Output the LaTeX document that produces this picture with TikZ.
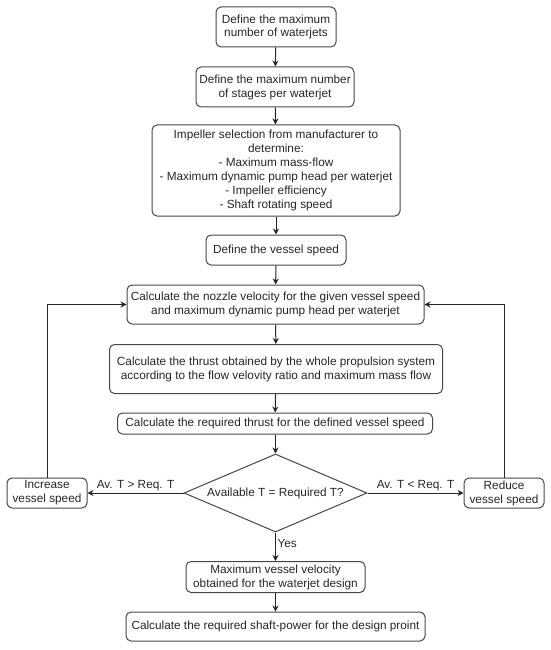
\documentclass[tikz,border=0pt]{standalone}
\usepackage{fontspec}
\setmainfont{Liberation Sans}
\usetikzlibrary{shapes.geometric,arrows.meta}
\begin{document}
\begin{tikzpicture}[x=1pt,y=-1pt,
  box/.style={draw=black!72, line width=1pt, rounded corners=5pt, align=center, inner sep=1pt,
    font=\fontsize{11.8}{13.9}\selectfont, text=black!85},
  dia/.style={draw=black!72, line width=1pt, diamond, shape aspect=2.35, inner sep=0pt,
    minimum width=183pt, minimum height=78pt, font=\fontsize{11.8}{13.9}\selectfont, text=black!85},
  arr/.style={draw=black!85, line width=1pt, -{Stealth[length=6pt,width=6pt]}},
  lbl/.style={font=\fontsize{11.8}{13.9}\selectfont, text=black!85, inner sep=1.5pt}]
\useasboundingbox (0,0) rectangle (550,650);
\node[box, minimum width=120pt, minimum height=40pt] (b1) at (276,27) {Define the maximum\\number of waterjets};
\node[box, minimum width=158pt, minimum height=40pt] (b2) at (275,87) {Define the maximum number\\of stages per waterjet};
\node[box, minimum width=248pt, minimum height=91pt] (b3) at (276,170.5) {Impeller selection from manufacturer to\\determine:\\- Maximum mass-flow\\- Maximum dynamic pump head per waterjet\\- Impeller efficiency\\- Shaft rotating speed};
\node[box, minimum width=140pt, minimum height=30pt] (b4) at (276,250) {Define the vessel speed};
\node[box, minimum width=297pt, minimum height=39pt] (b5) at (275.5,304.5) {Calculate the nozzle velocity for the given vessel speed\\and maximum dynamic pump head per waterjet};
\node[box, minimum width=333pt, minimum height=49pt] (b6) at (276,369) {Calculate the thrust obtained by the whole propulsion system\\according to the flow velovity ratio and maximum mass flow};
\node[box, minimum width=315pt, minimum height=21pt] (b7) at (275,423.5) {Calculate the required thrust for the defined vessel speed};
\node[dia] (d) at (275.5,493) {Available T = Required T?};
\node[box, minimum width=80pt, minimum height=30pt] (inc) at (47,493) {Increase\\vessel speed};
\node[box, minimum width=80pt, minimum height=30pt] (red) at (504,493) {Reduce\\vessel speed};
\node[box, minimum width=179pt, minimum height=31pt] (b8) at (275.5,577) {Maximum vessel velocity\\obtained for the waterjet design};
\node[box, minimum width=299pt, minimum height=29pt] (b9) at (275.5,626.5) {Calculate the required shaft-power for the design proint};
\draw[arr] (b1) -- (b2);
\draw[arr] (b2) -- (b3);
\draw[arr] (b3) -- (b4);
\draw[arr] (b4) -- (b5);
\draw[arr] (b5) -- (b6);
\draw[arr] (b6) -- (b7);
\draw[arr] (b7.south -| d.north) -- (d.north);
\draw[arr] (d.west) -- node[lbl, above, pos=0.5] {Av. T > Req. T} (inc.east);
\draw[arr] (d.east) -- node[lbl, above, pos=0.5] {Av. T < Req. T} (red.west);
\draw[arr] (d.south) -- node[lbl, right, pos=0.4] {Yes} (b8.north);
\draw[arr] (b8) -- (b9);
\draw[arr] (inc.north) |- (b5.west);
\draw[arr] (red.north) |- (b5.east);
\end{tikzpicture}
\end{document}
